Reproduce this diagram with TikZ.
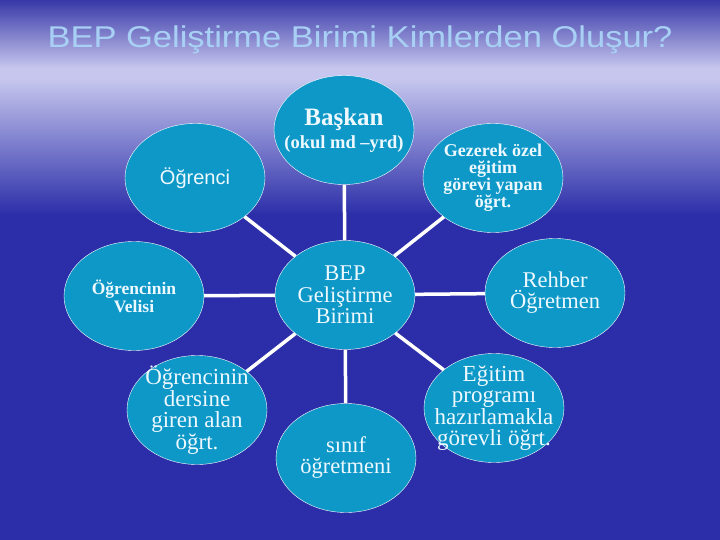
\documentclass[tikz,border=0pt]{standalone}
\usepackage{fontspec}
\setmainfont{Liberation Serif}
\setsansfont{Liberation Sans}
\usetikzlibrary{shapes}

\definecolor{skytop}{HTML}{3838A8}
\definecolor{skylight}{HTML}{C6C6EE}
\definecolor{skydark}{HTML}{2B2EA8}
\definecolor{bubblefill}{HTML}{0E98C8}
\definecolor{bubbletext}{HTML}{EEF9FF}
\definecolor{titleblue}{HTML}{A8D0F4}

\newcommand{\fsz}[2]{\fontsize{#1}{#2}\selectfont}

\begin{document}
\begin{tikzpicture}[x=1pt,y=-1pt,
  bubble/.style={ellipse, draw=white, thin, fill=bubblefill, minimum width=140pt, minimum height=109pt, inner sep=0pt},
  txt/.style={text=bubbletext, align=center, inner sep=0pt},
  link/.style={white, line width=3.5pt}]
\useasboundingbox (0,0) rectangle (720,540);
% background
\shade[top color=skytop, bottom color=skylight] (0,0) rectangle (720,68);
\fill[skylight] (0,67) rectangle (720,80);
\shade[top color=skylight, bottom color=skydark] (0,79) rectangle (720,215);
\fill[skydark] (0,214) rectangle (720,540);

\node[font=\sffamily\fsz{30}{30}, text=titleblue, xscale=1.15] (title) at (360,40) {BEP Geliştirme Birimi Kimlerden Oluşur?};

\node[bubble, label={[txt, font=\bfseries\fsz{25}{23}]center:Başkan\\{\fsz{18.5}{18}(okul md –yrd)}}] (baskan) at (344,130) {};
\node[bubble, label={[txt, font=\sffamily\fsz{20}{20}]center:Öğrenci}] (ogrenci) at (195,178) {};
\node[bubble, label={[txt, font=\bfseries\fsz{18}{17}]center:Gezerek özel\\eğitim\\görevi yapan\\öğrt.}] (gezerek) at (493,178) {};
\node[bubble, label={[txt, font=\bfseries\fsz{17.5}{18}]center:Öğrencinin\\Velisi}] (veli) at (134,296) {};
\node[bubble, label={[txt, font=\fsz{22.5}{21.5}]center:BEP\\Geliştirme\\Birimi}] (bep) at (345,295) {};
\node[bubble, label={[txt, font=\fsz{22.5}{21}]center:Rehber\\Öğretmen}] (rehber) at (555,293) {};
\node[bubble, label={[txt, font=\fsz{23}{21.5}]center:Öğrencinin\\dersine\\giren alan\\öğrt.}] (alan) at (197,410) {};
\node[bubble, label={[txt, font=\fsz{22.5}{21}]center:sınıf\\öğretmeni}] (sinif) at (346,458) {};
\node[bubble, label={[txt, font=\fsz{23}{21.5}]center:Eğitim\\programı\\hazırlamakla\\görevli öğrt.}] (egitim) at (494,408) {};

% connectors
\draw[link] (bep) -- (baskan);
\draw[link] (bep) -- (ogrenci);
\draw[link] (bep) -- (gezerek);
\draw[link] (bep) -- (veli);
\draw[link] (bep) -- (rehber);
\draw[link] (bep) -- (alan);
\draw[link] (bep) -- (sinif);
\draw[link] (bep) -- (egitim);
\end{tikzpicture}
\end{document}
